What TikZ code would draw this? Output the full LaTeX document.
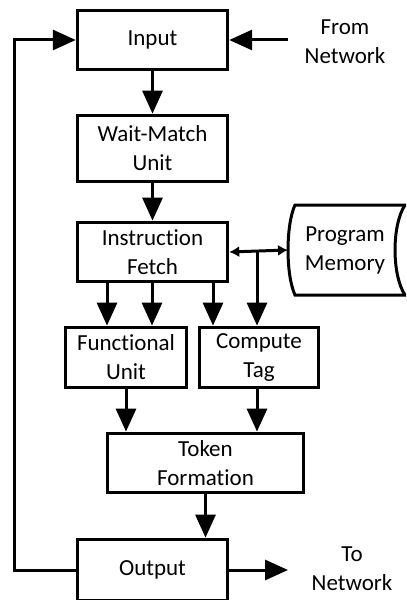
\documentclass[tikz,border=0pt]{standalone}
\usepackage{fontspec}
\setmainfont[RawFeature={-liga;-clig;-calt;-dlig}]{Carlito}
\usetikzlibrary{arrows.meta,positioning}
\tikzset{
  block/.style={draw, line width=3bp, inner sep=0pt, align=center,
    font=\fontsize{23bp}{29bp}\selectfont},
  label/.style={inner sep=0pt, align=center, font=\fontsize{23bp}{29bp}\selectfont},
  flow/.style={line width=3bp, -{Triangle[length=23bp,width=20bp]}},
  bidir/.style={line width=3bp, {Latex[length=10bp,width=11bp]}-{Latex[length=10bp,width=11bp]}},
}
\begin{document}
\begin{tikzpicture}[x=1bp,y=-1bp]
        \clip (0,0) rectangle (406,600);
        % Blocks of the pipeline
        \node[block, minimum width=151, minimum height=60] (input) at (152.5,40) {Input};
        \node[block, minimum width=151, minimum height=67] (wait) at (152.5,148.5) {Wait-Match\\Unit};
        \node[block, minimum width=151, minimum height=60] (fetch) at (152.5,252) {Instruction\\Fetch};
        \node[block, minimum width=122, minimum height=61] (func) at (126,357.5) {Functional\\Unit};
        \node[block, minimum width=120, minimum height=61] (tag) at (259,357.5) {Compute\\Tag};
        \node[block, minimum width=197, minimum height=60] (token) at (205.5,463) {Token\\Formation};
        \node[block, minimum width=151, minimum height=62] (output) at (152.5,570) {Output};
        % Program memory store
        \node[label, minimum width=114, minimum height=90] (mem) at (345,250) {Program\\Memory};
        \draw[line width=3bp] (412,205) -- (295,205) .. controls (285.7,225) and (285.7,275) .. (295,295) -- (412,295);
        \draw[line width=3bp] (405,205) .. controls (391.7,225) and (391.7,275) .. (405,295);
        % Network labels
        \node[label] (fromnet) at (345,42) {From\\Network};
        \node[label] (tonet) at (352,569) {To\\Network};
        \coordinate (fromin) at (288,40);
        \coordinate (toout) at (288,570);
        \coordinate (loop) at (14,570);
        \coordinate (bus) at (257,252);
        % Connections
        \draw[flow] (fromin) -- (input.east);
        \draw[flow] (input) -- (wait);
        \draw[flow] (wait) -- (fetch);
        \foreach \x in {107,152}
          \draw[flow] (fetch.south -| \x,0) -- (func.north -| \x,0);
        \draw[flow] (fetch.south -| 213,0) -- (tag.north -| 213,0);
        \draw[bidir] (fetch.east) -- (mem.west);
        \draw[flow] (bus) -- (bus |- tag.north);
        \draw[flow] (func.south) -- (func.south |- token.north);
        \draw[flow] (tag.south -| bus) -- (bus |- token.north);
        \draw[flow] (token.south) -- (token.south |- output.north);
        \draw[flow] (output.east) -- (toout);
        \draw[flow] (output.west) -- (loop) |- (input.west);
    \end{tikzpicture}
\end{document}
